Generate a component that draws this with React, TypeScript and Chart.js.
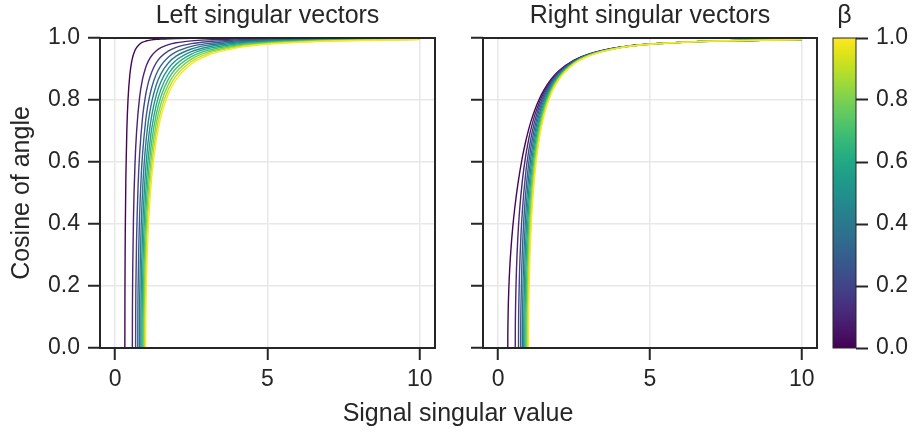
import React, { useEffect, useRef } from 'react';
import { Chart, registerables } from 'chart.js';

Chart.register(...registerables);

// ---------- data ----------
const betas = [0.01, 0.1, 0.2, 0.3, 0.4, 0.5, 0.6, 0.7, 0.8, 0.9, 1.0];
// x where each curve leaves zero
const onsetX = [0.316, 0.562, 0.669, 0.74, 0.795, 0.841, 0.88, 0.915, 0.946, 0.974, 1.0];
// points on the steep rise, per curve
const riseX = [
  [0.318, 0.32, 0.33, 0.35, 0.38, 0.42, 0.48, 0.55, 0.65, 0.8, 0.9, 1.0],
  [0.565, 0.575, 0.6, 0.65, 0.7, 0.8, 0.9, 1.0],
  [0.672, 0.68, 0.7, 0.75, 0.8, 0.9, 1.0],
  [0.743, 0.75, 0.77, 0.8, 0.85, 0.9, 1.0],
  [0.798, 0.805, 0.82, 0.85, 0.9, 0.95, 1.0],
  [0.844, 0.85, 0.87, 0.9, 0.95, 1.0],
  [0.883, 0.89, 0.91, 0.94, 0.97, 1.0],
  [0.917, 0.925, 0.94, 0.97, 1.0],
  [0.948, 0.955, 0.97, 1.0, 1.02],
  [0.976, 0.983, 1.0, 1.02],
  [1.003, 1.01, 1.02],
];
const leftRiseY = [
  [0.1418, 0.2055, 0.3789, 0.5554, 0.6976, 0.8014, 0.882, 0.9286, 0.9603, 0.9801, 0.9863, 0.9901],
  [0.1193, 0.2558, 0.4228, 0.5963, 0.6961, 0.8085, 0.8686, 0.9045],
  [0.1155, 0.2124, 0.3444, 0.521, 0.6244, 0.7467, 0.8165],
  [0.1006, 0.1839, 0.312, 0.4268, 0.5482, 0.6293, 0.7338],
  [0.0914, 0.1713, 0.2689, 0.3879, 0.5112, 0.5938, 0.6547],
  [0.0927, 0.1578, 0.2768, 0.3836, 0.4985, 0.5774],
  [0.0858, 0.1577, 0.2693, 0.3713, 0.4436, 0.5],
  [0.074, 0.1553, 0.2402, 0.3464, 0.4201],
  [0.0709, 0.1427, 0.2282, 0.3333, 0.3841],
  [0.0648, 0.1367, 0.2294, 0.3006],
  [0.0773, 0.1404, 0.1971],
];
const rightRiseY = [
  [0.0451, 0.0656, 0.1241, 0.1908, 0.2562, 0.319, 0.3898, 0.4548, 0.5295, 0.617, 0.6638, 0.7036],
  [0.0673, 0.1455, 0.2459, 0.3614, 0.4381, 0.5431, 0.6159, 0.6708],
  [0.0774, 0.1429, 0.2344, 0.3639, 0.4469, 0.5578, 0.6325],
  [0.0745, 0.1366, 0.2336, 0.3231, 0.4224, 0.4928, 0.5916],
  [0.0728, 0.1366, 0.2153, 0.3131, 0.418, 0.4913, 0.5477],
  [0.078, 0.133, 0.2341, 0.3263, 0.428, 0.5],
  [0.0755, 0.139, 0.238, 0.3295, 0.3952, 0.4472],
  [0.0677, 0.1422, 0.2203, 0.3185, 0.3873],
  [0.067, 0.135, 0.2161, 0.3162, 0.3647],
  [0.0631, 0.1332, 0.2236, 0.2932],
  [0.0773, 0.1404, 0.1971],
];
// shared x for the slow approach to 1
const tailX = [1.05, 1.1, 1.2, 1.35, 1.5, 1.75, 2, 2.5, 3, 4, 5, 7, 10];
const leftTailY = [
  [0.9914, 0.9925, 0.9941, 0.9958, 0.9968, 0.9978, 0.9984, 0.9991, 0.9994, 0.9997, 0.9998, 0.9999, 1.0],
  [0.9173, 0.9277, 0.9434, 0.9589, 0.9688, 0.9788, 0.9846, 0.9908, 0.9939, 0.9967, 0.9979, 0.999, 0.9995],
  [0.8409, 0.8608, 0.8907, 0.9202, 0.9392, 0.9585, 0.9698, 0.9818, 0.9879, 0.9934, 0.9959, 0.9979, 0.999],
  [0.7695, 0.7982, 0.8413, 0.8838, 0.9111, 0.939, 0.9554, 0.9731, 0.9819, 0.9902, 0.9938, 0.9969, 0.9985],
  [0.7016, 0.7391, 0.7948, 0.8493, 0.8843, 0.9202, 0.9415, 0.9645, 0.9761, 0.987, 0.9918, 0.9958, 0.998],
  [0.6364, 0.6826, 0.7505, 0.8165, 0.8587, 0.9021, 0.928, 0.9561, 0.9703, 0.9838, 0.9897, 0.9948, 0.9975],
  [0.5726, 0.6281, 0.7083, 0.7851, 0.8342, 0.8847, 0.9149, 0.9478, 0.9647, 0.9806, 0.9877, 0.9937, 0.997],
  [0.5093, 0.575, 0.6676, 0.7551, 0.8107, 0.8679, 0.9021, 0.9398, 0.9591, 0.9775, 0.9857, 0.9927, 0.9965],
  [0.4451, 0.5226, 0.6284, 0.7263, 0.7881, 0.8516, 0.8898, 0.9319, 0.9536, 0.9744, 0.9837, 0.9917, 0.996],
  [0.378, 0.4701, 0.5902, 0.6986, 0.7664, 0.8359, 0.8777, 0.9241, 0.9482, 0.9713, 0.9818, 0.9906, 0.9955],
  [0.3049, 0.4166, 0.5528, 0.6718, 0.7454, 0.8207, 0.866, 0.9165, 0.9428, 0.9682, 0.9798, 0.9897, 0.995],
];
const rightTailY = [
  [0.7212, 0.7374, 0.7664, 0.8024, 0.8312, 0.8678, 0.8941, 0.9284, 0.9486, 0.9701, 0.9806, 0.9899, 0.995],
  [0.6937, 0.7142, 0.7495, 0.7914, 0.8238, 0.8636, 0.8916, 0.9274, 0.9481, 0.97, 0.9805, 0.9899, 0.995],
  [0.6619, 0.6875, 0.7302, 0.779, 0.8155, 0.8589, 0.8888, 0.9261, 0.9475, 0.9698, 0.9804, 0.9899, 0.995],
  [0.6285, 0.6598, 0.7105, 0.7664, 0.807, 0.8542, 0.886, 0.9249, 0.9469, 0.9696, 0.9803, 0.9898, 0.995],
  [0.5931, 0.6308, 0.6902, 0.7536, 0.7985, 0.8495, 0.8832, 0.9237, 0.9463, 0.9694, 0.9803, 0.9898, 0.995],
  [0.5556, 0.6004, 0.6692, 0.7406, 0.7899, 0.8448, 0.8803, 0.9225, 0.9458, 0.9692, 0.9802, 0.9898, 0.995],
  [0.5153, 0.5684, 0.6476, 0.7274, 0.7812, 0.84, 0.8775, 0.9213, 0.9452, 0.969, 0.9801, 0.9898, 0.995],
  [0.4716, 0.5345, 0.6252, 0.7139, 0.7724, 0.8352, 0.8746, 0.9201, 0.9446, 0.9688, 0.98, 0.9897, 0.995],
  [0.4234, 0.4983, 0.6021, 0.7001, 0.7635, 0.8304, 0.8718, 0.9189, 0.944, 0.9686, 0.98, 0.9897, 0.995],
  [0.3689, 0.4593, 0.5779, 0.6861, 0.7545, 0.8255, 0.8689, 0.9177, 0.9434, 0.9684, 0.9799, 0.9897, 0.995],
  [0.3049, 0.4166, 0.5528, 0.6718, 0.7454, 0.8207, 0.866, 0.9165, 0.9428, 0.9682, 0.9798, 0.9897, 0.995],
];
const xTickValues = [0, 5, 10];
const colorbarTicks = [0, 0.2, 0.4, 0.6, 0.8, 1.0];

// ---------- style ----------
const FONT = "'Liberation Sans', Arial, Helvetica, sans-serif";
const INK = '#262626';
const GRID = '#e8e8e8';
const TICK_SIZE = 23;
const LABEL_SIZE = 25;
const VIRIDIS = [
  '#440154', '#471365', '#482475', '#463480', '#414487', '#3b528b', '#355f8d',
  '#2f6c8e', '#2a788e', '#25848e', '#21918c', '#1e9c89', '#22a884', '#2fb47c',
  '#44bf70', '#5ec962', '#7ad151', '#9bd93c', '#bddf26', '#dfe318', '#fde725',
];

function hexToRgb(h: string) {
  return [parseInt(h.slice(1, 3), 16), parseInt(h.slice(3, 5), 16), parseInt(h.slice(5, 7), 16)];
}
function viridis(t: number) {
  const n = VIRIDIS.length - 1;
  const p = Math.min(Math.max(t, 0), 1) * n;
  const i = Math.min(Math.floor(p), n - 1);
  const f = p - i;
  const a = hexToRgb(VIRIDIS[i]);
  const b = hexToRgb(VIRIDIS[i + 1]);
  const c = a.map((v, k) => Math.round(v + (b[k] - v) * f));
  return `rgb(${c[0]},${c[1]},${c[2]})`;
}

function buildDatasets(riseY: number[][], tailY: number[][]) {
  return betas.map((b, i) => ({
    label: `β = ${b}`,
    data: [
      { x: 0, y: 0 },
      { x: onsetX[i], y: 0 },
      ...riseX[i].map((x, j) => ({ x, y: riseY[i][j] })),
      ...tailX.map((x, j) => ({ x, y: tailY[i][j] })),
    ],
    borderColor: viridis(b),
    backgroundColor: viridis(b),
    borderWidth: 1.4,
    pointRadius: 0,
    fill: false,
    cubicInterpolationMode: 'monotone' as const,
    order: betas.length - i,
  }));
}

const framePlugin = {
  id: 'frame',
  afterDatasetsDraw(chart: any) {
    const { ctx, chartArea: a } = chart;
    ctx.save();
    ctx.strokeStyle = INK;
    ctx.lineWidth = 2;
    ctx.strokeRect(a.left, a.top, a.right - a.left, a.bottom - a.top);
    ctx.restore();
  },
};

const colorbarPlugin = {
  id: 'colorbarFill',
  beforeDatasetsDraw(chart: any) {
    const { ctx, chartArea: a } = chart;
    ctx.save();
    const g = ctx.createLinearGradient(0, a.bottom, 0, a.top);
    VIRIDIS.forEach((c, k) => g.addColorStop(k / (VIRIDIS.length - 1), c));
    ctx.fillStyle = g;
    ctx.fillRect(a.left, a.top, a.right - a.left, a.bottom - a.top);
    ctx.strokeStyle = INK;
    ctx.lineWidth = 1;
    ctx.strokeRect(a.left, a.top, a.right - a.left, a.bottom - a.top);
    ctx.restore();
  },
};

function panelConfig(title: string, riseY: number[][], tailY: number[][], isLeft: boolean): any {
  return {
    type: 'line',
    data: { datasets: buildDatasets(riseY, tailY) },
    plugins: [framePlugin],
    options: {
      animation: false,
      responsive: false,
      events: [],
      layout: { padding: { left: 0, right: 15, top: 0, bottom: 0 } },
      plugins: {
        legend: { display: false },
        tooltip: { enabled: false },
        title: {
          display: true,
          text: title,
          fullSize: false,
          color: INK,
          font: { family: FONT, size: LABEL_SIZE, weight: 'normal', lineHeight: 1.2 },
          padding: { top: 1.5, bottom: 6.5 },
        },
      },
      scales: {
        x: {
          type: 'linear',
          min: -0.5,
          max: 10.5,
          afterBuildTicks: (s: any) => {
            s.ticks = xTickValues.map((v) => ({ value: v }));
          },
          afterFit: (s: any) => {
            s.height = 84;
          },
          ticks: {
            color: INK,
            font: { family: FONT, size: TICK_SIZE },
            padding: 6,
            maxRotation: 0,
            autoSkip: false,
            callback: (v: any) => String(v),
          },
          grid: { color: GRID, lineWidth: 1.5, tickColor: INK, tickWidth: 2, tickLength: 12 },
          border: { display: false },
        },
        y: {
          type: 'linear',
          min: 0,
          max: 1,
          afterFit: (s: any) => {
            s.width = isLeft ? 100 : 33;
          },
          ticks: {
            stepSize: 0.2,
            color: isLeft ? INK : 'rgba(0,0,0,0)',
            font: { family: FONT, size: TICK_SIZE },
            padding: 8,
            callback: (v: any) => Number(v).toFixed(1),
          },
          grid: { color: GRID, lineWidth: 1.5, tickColor: INK, tickWidth: 2, tickLength: 12 },
          border: { display: false },
          title: {
            display: isLeft,
            text: 'Cosine of angle',
            color: INK,
            font: { family: FONT, size: LABEL_SIZE, lineHeight: 1.2 },
            padding: { top: 7, bottom: 0 },
          },
        },
      },
    },
  };
}

function colorbarConfig(): any {
  return {
    type: 'line',
    data: { datasets: [] },
    plugins: [colorbarPlugin],
    options: {
      animation: false,
      responsive: false,
      events: [],
      layout: { padding: { left: 57, right: 0, top: 0, bottom: 84 } },
      plugins: {
        legend: { display: false },
        tooltip: { enabled: false },
        title: {
          display: true,
          text: 'β',
          fullSize: false,
          color: INK,
          font: { family: FONT, size: LABEL_SIZE, weight: 'normal', lineHeight: 1.2 },
          padding: { top: 1.5, bottom: 6.5 },
        },
      },
      scales: {
        x: { type: 'linear', display: false, min: 0, max: 1 },
        y: {
          type: 'linear',
          position: 'right',
          min: 0,
          max: 1,
          afterBuildTicks: (s: any) => {
            s.ticks = colorbarTicks.map((v) => ({ value: v }));
          },
          afterFit: (s: any) => {
            s.width = 57;
          },
          ticks: {
            color: INK,
            font: { family: FONT, size: TICK_SIZE },
            padding: 8,
            callback: (v: any) => Number(v).toFixed(1),
          },
          grid: { drawOnChartArea: false, tickColor: INK, tickWidth: 2, tickLength: 12 },
          border: { display: false },
        },
      },
    },
  };
}

export default function App() {
  const leftRef = useRef<HTMLCanvasElement>(null);
  const rightRef = useRef<HTMLCanvasElement>(null);
  const barRef = useRef<HTMLCanvasElement>(null);

  useEffect(() => {
    const charts: Chart[] = [];
    if (leftRef.current) charts.push(new Chart(leftRef.current, panelConfig('Left singular vectors', leftRiseY, leftTailY, true)));
    if (rightRef.current) charts.push(new Chart(rightRef.current, panelConfig('Right singular vectors', rightRiseY, rightTailY, false)));
    if (barRef.current) charts.push(new Chart(barRef.current, colorbarConfig()));
    return () => charts.forEach((c) => c.destroy());
  }, []);

  const abs = (left: number, width: number): React.CSSProperties => ({
    position: 'absolute',
    left,
    top: 0,
    width,
    height: 432,
    display: 'block',
  });

  return (
    <div style={{ position: 'absolute', left: 0, top: 0, width: 913, height: 432, background: '#ffffff', overflow: 'hidden' }}>
      <canvas ref={leftRef} width={450} height={432} style={abs(0, 450)} />
      <canvas ref={rightRef} width={382} height={432} style={abs(450, 382)} />
      <canvas ref={barRef} width={137} height={432} style={abs(776, 137)} />
      <div
        style={{
          position: 'absolute',
          left: 258,
          top: 397,
          width: 400,
          textAlign: 'center',
          fontFamily: FONT,
          fontSize: LABEL_SIZE,
          lineHeight: '30px',
          color: INK,
          whiteSpace: 'nowrap',
        }}
      >
        Signal singular value
      </div>
    </div>
  );
}
